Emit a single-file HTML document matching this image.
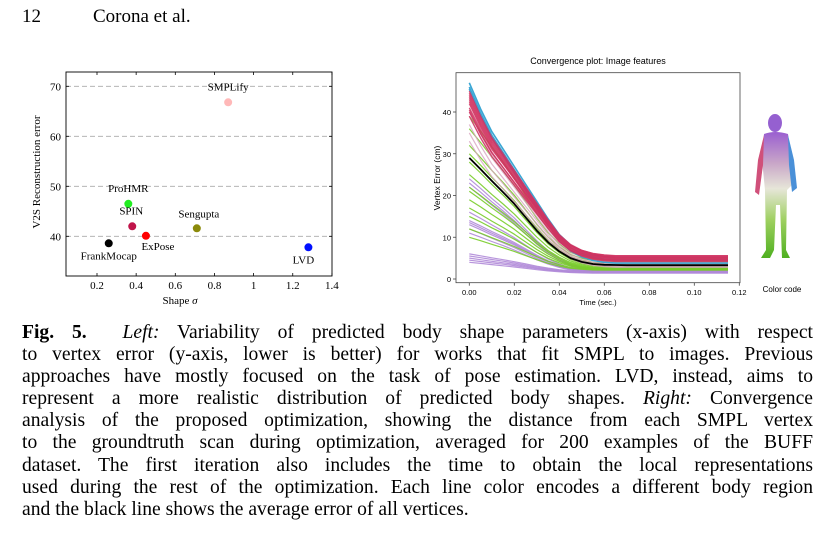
<!DOCTYPE html>
<html><head><meta charset="utf-8"><style>
body{margin:0;width:825px;height:550px;background:#fff;overflow:hidden;position:relative;font-family:"Liberation Serif",serif;color:#000}
.hdr{position:absolute;top:6px;font-size:19px}
.cap{position:absolute;left:22px;width:791px;top:322px;font-size:19.6px;line-height:22.1px}
.cap div{text-align:justify;text-align-last:justify;white-space:nowrap}
.cap div.last{text-align-last:left}
svg text{font-family:"Liberation Serif",serif}
.ss{font-family:"Liberation Sans","DejaVu Sans",sans-serif}
</style></head><body>
<div class="hdr" style="left:22px">12</div>
<div class="hdr" style="left:93px">Corona et al.</div>

<svg id="fig" width="825" height="315" style="position:absolute;left:0;top:0">
<defs>
<linearGradient id="bodyg" x1="0" y1="0" x2="0" y2="1">
<stop offset="0" stop-color="#9a5fd0"/><stop offset="0.25" stop-color="#c9a7c8"/><stop offset="0.45" stop-color="#e6e6d8"/><stop offset="0.7" stop-color="#9ed060"/><stop offset="1" stop-color="#4fb020"/></linearGradient>
</defs>
<g id="left"></g>
<g id="right"></g>
<g>
<ellipse cx="775" cy="123" rx="7" ry="9" fill="#9560d0"/>
<path d="M764 134 Q775 130 788 134 L791 160 L792 185 L787 190 L786 250 L790 258 L782 258 L780 205 L776 205 L774 250 L770 258 L761 258 L766 250 L765 190 L762 160 Z" fill="url(#bodyg)"/>
<path d="M764 135 L758 160 L755 192 L759 195 L763 165 Z" fill="#d0507a"/>
<path d="M788 135 L794 160 L797 188 L792 192 L789 165 Z" fill="#4a90d8"/>
</g>
<text x="782" y="292" font-size="8" text-anchor="middle" class="ss">Color code</text>
</svg>

<div class="cap">
<div><b>Fig. 5.</b>&nbsp; <i>Left:</i> Variability of predicted body shape parameters (x-axis) with respect</div>
<div>to vertex error (y-axis, lower is better) for works that fit SMPL to images. Previous</div>
<div>approaches have mostly focused on the task of pose estimation. LVD, instead, aims to</div>
<div>represent a more realistic distribution of predicted body shapes. <i>Right:</i> Convergence</div>
<div>analysis of the proposed optimization, showing the distance from each SMPL vertex</div>
<div>to the groundtruth scan during optimization, averaged for 200 examples of the BUFF</div>
<div>dataset. The first iteration also includes the time to obtain the local representations</div>
<div>used during the rest of the optimization. Each line color encodes a different body region</div>
<div class="last">and the black line shows the average error of all vertices.</div>
</div>

<script>
// ---- Left scatter data ----
const methodNames = ["SMPLify","ProHMR","SPIN","ExPose","Sengupta","FrankMocap","LVD"];
const shapeSigma = [0.87,0.36,0.38,0.45,0.71,0.26,1.28];
const v2sError = [66.8,46.5,42.0,40.1,41.6,38.6,37.8];
const methodColors = ["#ffb8b8","#22ee22","#c0144a","#ff0000","#8b8a0a","#000000","#0010ff"];
const leftXTicks = [0.2,0.4,0.6,0.8,1,1.2,1.4];
const leftYTicks = [40,50,60,70];
// ---- Right convergence data ----
const times = [0,0.005,0.01,0.015,0.02,0.025,0.03,0.035,0.04,0.045,0.05,0.055,0.06,0.065,0.07,0.08,0.09,0.1,0.115];
const fastProfile = [1,0.895,0.785,0.68,0.57,0.445,0.32,0.21,0.125,0.06,0.027,0.008,0,0,0,0,0,0,0];
const slowProfile = [1,0.85,0.72,0.62,0.52,0.42,0.32,0.22,0.13,0.07,0.035,0.015,0.005,0,0,0,0,0,0];
const averageError = [29,26.3,23.5,20.8,18.0,14.8,11.6,8.8,6.6,5.0,4.1,3.6,3.4,3.35,3.3,3.3,3.3,3.3,3.3];
const purpleStarts = [24,23,22,16,14,13.5,13,12,11,6,5.5,5,4.5,4];
const purpleEnds = [2.2,2,1.9,1.8,1.8,1.7,1.7,1.6,1.6,1.7,1.6,1.5,1.5,1.4];
const greenStarts = [39,36,32,30,28,25,22,21,19,17,15,12,10];
const greenEnds = [4.8,4.5,4.2,3.8,3.2,3,2.8,2.6,2.5,2.4,2.3,2.2,2.1];
const pinkStarts = [40,39,37,35,33];
const pinkEnds = [4,3.5,3.2,3,2.8];
const blueStarts = [47,46,45.5];
const blueEnds = [5.2,4.6,3.8];
const redStarts = [45,44.5,44,43.5,43,42.5,42,41,40.5,40,39];
const redEnds = [5.5,5.3,5.2,5,4.8,4.6,4.4,5.6,4.2,5,4.5];
const rightXTicks = [0,0.02,0.04,0.06,0.08,0.1,0.12];
const rightYTicks = [0,10,20,30,40];

const NS="http://www.w3.org/2000/svg";
function mk(parent,tag,attrs,text){const e=document.createElementNS(NS,tag);for(const k in attrs)e.setAttribute(k,attrs[k]);if(text!==undefined)e.textContent=text;parent.appendChild(e);return e;}

// Left chart
const L=document.getElementById('left');
const lx=v=>97+(v-0.2)/0.2*39.15;
const ly=v=>236.3-(v-40)*5.0;
leftYTicks.forEach(t=>{
  const g=mk(L,'line',{x1:66,x2:332,y1:ly(t),y2:ly(t),stroke:'#aaa','stroke-width':0.8,'stroke-dasharray':'5,3'});
  
  
  const tx=mk(L,'text',{x:61,y:ly(t)+4,'font-size':11,'text-anchor':'end'},String(t));
  
  
  mk(L,'line',{x1:66,x2:69,y1:ly(t),y2:ly(t),stroke:'#000','stroke-width':0.8});
  mk(L,'line',{x1:329,x2:332,y1:ly(t),y2:ly(t),stroke:'#000','stroke-width':0.8});
});
leftXTicks.forEach(t=>{
  const tx=mk(L,'text',{x:lx(t),y:289,'font-size':11,'text-anchor':'middle'},String(t));
  
  
  mk(L,'line',{x1:lx(t),x2:lx(t),y1:276,y2:273,stroke:'#000','stroke-width':0.8});
  mk(L,'line',{x1:lx(t),x2:lx(t),y1:72,y2:75,stroke:'#000','stroke-width':0.8});
});
const lf=mk(L,'rect',{x:66,y:72,width:266,height:204,fill:'none',stroke:'#000','stroke-width':0.9});


const labOff=[[0,-12,'middle'],[0,-12,'middle'],[-1,-12,'middle'],[12,14,'middle'],[2,-11,'middle'],[0,16,'middle'],[-5,16,'middle']];
methodNames.forEach((n,i)=>{
  const c=mk(L,'circle',{cx:lx(shapeSigma[i]),cy:ly(v2sError[i]),r:4,fill:methodColors[i]});
  
  
  const t=mk(L,'text',{x:lx(shapeSigma[i])+labOff[i][0],y:ly(v2sError[i])+labOff[i][1],'font-size':11,'text-anchor':labOff[i][2]},n);
  
  
});
const lxt=mk(L,'text',{x:180,y:304,'font-size':11,'text-anchor':'middle'},'Shape ');
mk(lxt,'tspan',{'font-style':'italic'},'σ');


const lyt=mk(L,'text',{x:0,y:0,'font-size':11,'text-anchor':'middle',transform:'translate(40,172) rotate(-90)'},'V2S Reconstruction error');



// Right chart
const R=document.getElementById('right');
const rx=v=>469.3+v/0.02*45;
const ry=v=>279-v*4.175;
const rt=mk(R,'text',{x:598,y:64,'font-size':9,'text-anchor':'middle',class:'ss'},'Convergence plot: Image features');


const rf=mk(R,'rect',{x:456,y:72.7,width:284,height:210,fill:'none',stroke:'#444','stroke-width':0.8});


rightYTicks.forEach(t=>{
  mk(R,'line',{x1:453,x2:456,y1:ry(t),y2:ry(t),stroke:'#444','stroke-width':0.8});
  const tx=mk(R,'text',{x:451,y:ry(t)+3,'font-size':7.5,'text-anchor':'end',class:'ss'},String(t));
  
  
});
rightXTicks.forEach(t=>{
  mk(R,'line',{x1:rx(t),x2:rx(t),y1:282.7,y2:285.7,stroke:'#444','stroke-width':0.8});
  const tx=mk(R,'text',{x:rx(t),y:295,'font-size':7.5,'text-anchor':'middle',class:'ss'},t.toFixed(2));
  
  
});
const rxt=mk(R,'text',{x:598,y:305,'font-size':7.5,'text-anchor':'middle',class:'ss'},'Time (sec.)');


const ryt=mk(R,'text',{x:0,y:0,'font-size':8.5,'text-anchor':'middle',class:'ss',transform:'translate(440,178) rotate(-90)'},'Vertex Error (cm)');


function series(starts,ends,profile,color,name,w,op){
  starts.forEach((s,i)=>{
    const pts=times.map((t,k)=>rx(t).toFixed(1)+','+ry(ends[i]+(s-ends[i])*profile[k]).toFixed(1)).join(' ');
    const p=mk(R,'polyline',{points:pts,fill:'none',stroke:color,'stroke-width':w,'stroke-opacity':op,'stroke-linejoin':'round'});
    
    
  });
}
series(purpleStarts,purpleEnds,fastProfile,'#b08ad8','purple-region',1.2,0.9);
series(greenStarts,greenEnds,fastProfile,'#78cc28','green-region',1.2,0.9);
series(pinkStarts,pinkEnds,slowProfile,'#d8a4c0','pink-region',1.2,0.8);
series(blueStarts,blueEnds,slowProfile,'#3aa6d4','blue-region',1.6,1);
series(redStarts,redEnds,slowProfile,'#d03260','red-region',1.3,0.85);
const bp=mk(R,'polyline',{points:times.map((t,k)=>rx(t).toFixed(1)+','+ry(averageError[k]).toFixed(1)).join(' '),fill:'none',stroke:'#000','stroke-width':1.8,'stroke-linejoin':'round'});


</script>
</body></html>
